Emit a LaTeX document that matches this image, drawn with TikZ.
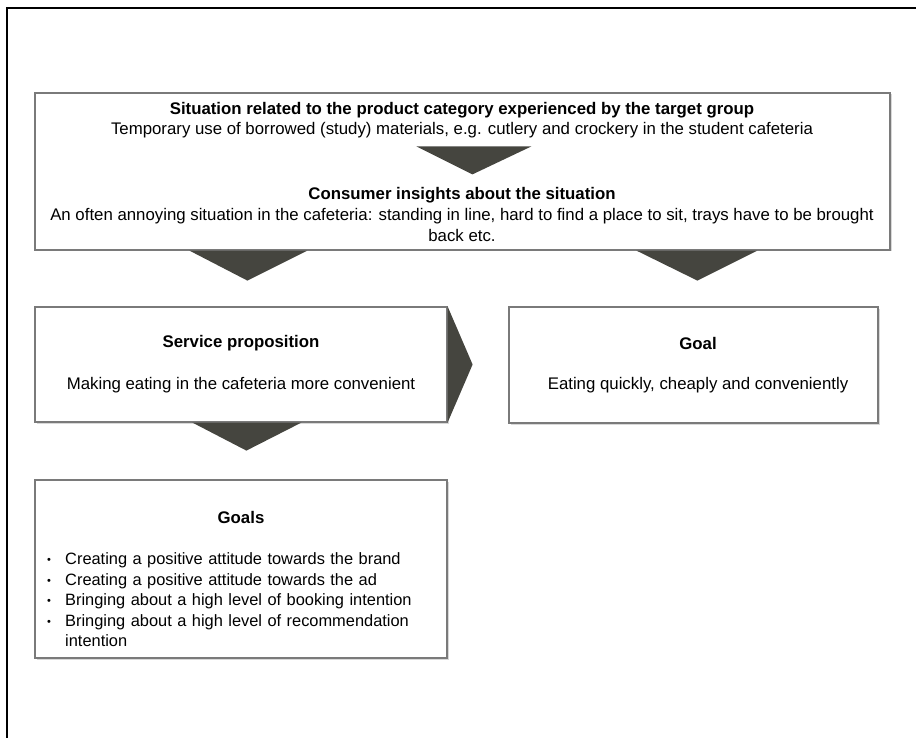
\documentclass[tikz,border=0pt]{standalone}
\usepackage{fontspec}
\setmainfont{Liberation Sans}
\usetikzlibrary{positioning,calc,shadows}

\definecolor{arrowgray}{HTML}{45453F}
\definecolor{framegray}{HTML}{7A7A7A}
\newcommand{\goalitem}[1]{\par\noindent\makebox[18pt][l]{\raisebox{1pt}{\fontsize{11}{11}\selectfont\textbullet}}#1}

\begin{document}
\begin{tikzpicture}[x=1pt,y=-1pt,
  box/.style={rectangle,draw=framegray,line width=1.2pt,fill=white,inner sep=0pt,
    drop shadow={shadow xshift=1.5pt,shadow yshift=-1.5pt,fill=black!30,opacity=0.5}},
  txt/.style={inner sep=0pt,font=\fontsize{16.8}{20.5}\selectfont},
  head/.style={inner sep=0pt,font=\fontsize{16.8}{20.5}\selectfont\bfseries},
  tri/.style={fill=arrowgray}]
\useasboundingbox (0,0) rectangle (916,738);
\draw[line width=2pt] (7,738) -- (7,8) -- (916,8);

% boxes
\node[box,minimum width=855pt,minimum height=157pt] (situation) at (462.5,171.5) {};
\node[box,minimum width=412pt,minimum height=115pt] (service) at (241,364.5) {};
\node[box,minimum width=369pt,minimum height=116pt] (goal) at (693.5,365) {};
\node[box,minimum width=412pt,minimum height=178pt] (goals) at (241,569) {};

% texts
\node[head] (sithead) at (462,110) {Situation related to the product category experienced by the target group};
\node[txt] (sittext) at (462,130) {Temporary use of borrowed (study) materials, e.g. cutlery and crockery in the student cafeteria};
\node[head] (inshead) at (462,195) {Consumer insights about the situation};
\node[txt,align=center] (instext) at (462,225) {An often annoying situation in the cafeteria: standing in line, hard to find a place to sit, trays have to be brought\\back etc.};
\node[head] (servhead) at (241,343) {Service proposition};
\node[txt] (servtext) at (241,385) {Making eating in the cafeteria more convenient};
\node[head] (goalhead) at (698,343) {Goal};
\node[txt] (goaltext) at (698,385) {Eating quickly, cheaply and conveniently};
\node[head] (goalshead) at (241,517) {Goals};
\node[txt,font=\fontsize{16.4}{20.5}\selectfont,text width=380pt,align=left,anchor=north west] (goallist) at (47,544) {%
  \goalitem{Creating a positive attitude towards the brand}
  \goalitem{Creating a positive attitude towards the ad}
  \goalitem{Bringing about a high level of booking intention}
  \goalitem{Bringing about a high level of recommendation}
  \par\noindent\hspace*{18pt}intention};

% arrows
\fill[tri] ($(situation.north west)+(382,54)$) -- ++(115,0) -- ++(-59,28) -- cycle;
\fill[tri] ($(situation.south west)+(155,0)$) -- ++(118,0) -- ++(-60,30) -- cycle;
\fill[tri] ($(situation.south west)+(602,0)$) -- ++(121,0) -- ++(-60,30) -- cycle;
\fill[tri] (service.north east) -- ($(service.east)+(25,0)$) -- (service.south east) -- cycle;
\fill[tri] ($(service.south west)+(158,0)$) -- ++(109,0) -- ++(-55,28) -- cycle;
\end{tikzpicture}
\end{document}
